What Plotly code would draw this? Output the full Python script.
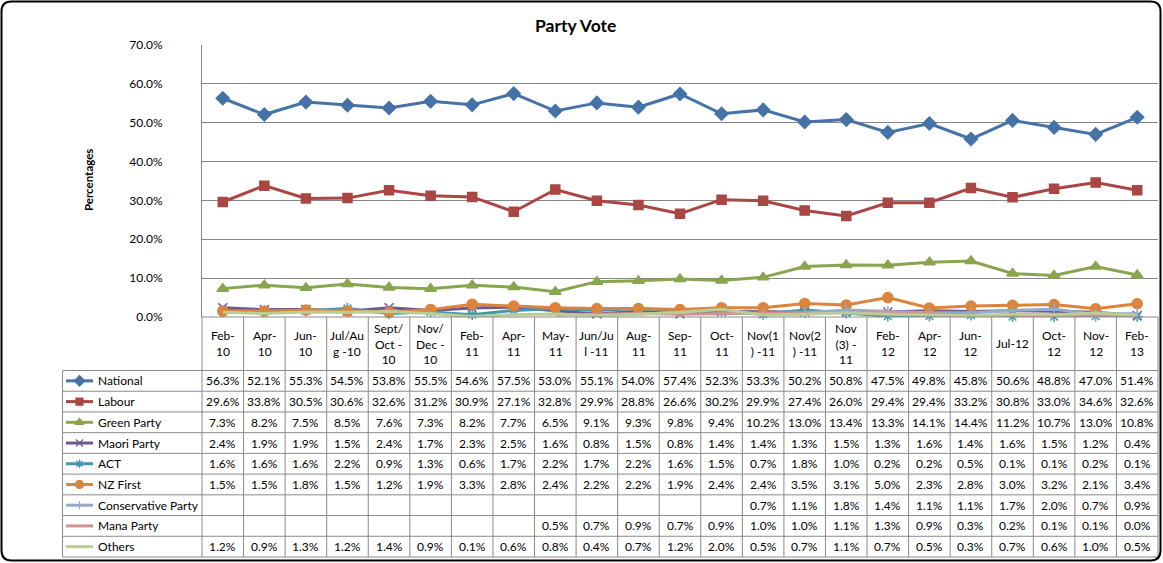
import plotly.graph_objects as go

# ---------------- data ----------------
categories = ["Feb-10", "Apr-10", "Jun-10", "Jul/Aug -10", "Sept/Oct - 10", "Nov/Dec - 10",
              "Feb-11", "Apr-11", "May-11", "Jun/Jul -11", "Aug-11", "Sep-11", "Oct-11",
              "Nov(1) -11", "Nov(2) -11", "Nov (3) - 11", "Feb-12", "Apr-12", "Jun-12",
              "Jul-12", "Oct-12", "Nov-12", "Feb-13"]
category_labels = ["Feb-<br>10", "Apr-<br>10", "Jun-<br>10", "Jul/Au<br>g -10", "Sept/<br>Oct -<br>10",
                   "Nov/<br>Dec -<br>10", "Feb-<br>11", "Apr-<br>11", "May-<br>11", "Jun/Ju<br>l -11",
                   "Aug-<br>11", "Sep-<br>11", "Oct-<br>11", "Nov(1<br>) -11", "Nov(2<br>) -11",
                   "Nov<br>(3) -<br>11", "Feb-<br>12", "Apr-<br>12", "Jun-<br>12", "Jul-12",
                   "Oct-<br>12", "Nov-<br>12", "Feb-<br>13"]

national = [56.3, 52.1, 55.3, 54.5, 53.8, 55.5, 54.6, 57.5, 53.0, 55.1, 54.0, 57.4, 52.3,
            53.3, 50.2, 50.8, 47.5, 49.8, 45.8, 50.6, 48.8, 47.0, 51.4]
labour = [29.6, 33.8, 30.5, 30.6, 32.6, 31.2, 30.9, 27.1, 32.8, 29.9, 28.8, 26.6, 30.2,
          29.9, 27.4, 26.0, 29.4, 29.4, 33.2, 30.8, 33.0, 34.6, 32.6]
green = [7.3, 8.2, 7.5, 8.5, 7.6, 7.3, 8.2, 7.7, 6.5, 9.1, 9.3, 9.8, 9.4,
         10.2, 13.0, 13.4, 13.3, 14.1, 14.4, 11.2, 10.7, 13.0, 10.8]
maori = [2.4, 1.9, 1.9, 1.5, 2.4, 1.7, 2.3, 2.5, 1.6, 0.8, 1.5, 0.8, 1.4,
         1.4, 1.3, 1.5, 1.3, 1.6, 1.4, 1.6, 1.5, 1.2, 0.4]
act = [1.6, 1.6, 1.6, 2.2, 0.9, 1.3, 0.6, 1.7, 2.2, 1.7, 2.2, 1.6, 1.5,
       0.7, 1.8, 1.0, 0.2, 0.2, 0.5, 0.1, 0.1, 0.2, 0.1]
nz_first = [1.5, 1.5, 1.8, 1.5, 1.2, 1.9, 3.3, 2.8, 2.4, 2.2, 2.2, 1.9, 2.4,
            2.4, 3.5, 3.1, 5.0, 2.3, 2.8, 3.0, 3.2, 2.1, 3.4]
conservative = [None] * 13 + [0.7, 1.1, 1.8, 1.4, 1.1, 1.1, 1.7, 2.0, 0.7, 0.9]
mana = [None] * 8 + [0.5, 0.7, 0.9, 0.7, 0.9, 1.0, 1.0, 1.1, 1.3, 0.9, 0.3, 0.2, 0.1, 0.1, 0.0]
others = [1.2, 0.9, 1.3, 1.2, 1.4, 0.9, 0.1, 0.6, 0.8, 0.4, 0.7, 1.2, 2.0,
          0.5, 0.7, 1.1, 0.7, 0.5, 0.3, 0.7, 0.6, 1.0, 0.5]

y_ticks = [0, 10, 20, 30, 40, 50, 60, 70]
y_tick_labels = [f"{v:.1f}%" for v in y_ticks]

series = [
    ("National", national, "#4572A7", "diamond", 10),
    ("Labour", labour, "#AA4643", "square", 9),
    ("Green Party", green, "#89A54E", "triangle-up", 10),
    ("Maori Party", maori, "#71588F", "x-thin-open", 9),
    ("ACT", act, "#4198AF", "asterisk-open", 9),
    ("NZ First", nz_first, "#DB843D", "circle", 10),
    ("Conservative Party", conservative, "#93A9CF", "line-ns-open", 8),
    ("Mana Party", mana, "#D19392", None, 0),
    ("Others", others, "#B9CD96", None, 0),
]

# ---------------- layout geometry (pixels) ----------------
W, H = 1163, 563
L, R, T, B = 202, 1158, 45, 317
TBL_LEFT = 62.5
HDR_BOT = 370.5
TBL_BOT = 557
n = len(categories)
col_w = (R - L) / n
row_h = (TBL_BOT - HDR_BOT) / len(series)
FONT = "Lato"
GRID = "#8a8a8a"

fig = go.Figure()

for name, vals, color, sym, size in series:
    if sym is None:
        fig.add_trace(go.Scatter(x=categories, y=vals, mode="lines", name=name,
                                 line=dict(color=color, width=3), showlegend=False,
                                 cliponaxis=False, xaxis="x", yaxis="y"))
    else:
        fig.add_trace(go.Scatter(x=categories, y=vals, mode="lines+markers", name=name,
                                 line=dict(color=color, width=3),
                                 marker=dict(symbol=sym, size=size, color=color,
                                             line=dict(color=color, width=1.5)),
                                 showlegend=False, cliponaxis=False, xaxis="x", yaxis="y"))

shapes = []
annotations = []

def hline(x0, x1, y):
    shapes.append(dict(type="line", xref="x2", yref="y2", x0=x0, x1=x1, y0=y, y1=y,
                       line=dict(color=GRID, width=1)))

def vline(x, y0, y1):
    shapes.append(dict(type="line", xref="x2", yref="y2", x0=x, x1=x, y0=y0, y1=y1,
                       line=dict(color=GRID, width=1)))

# table grid
hline(L, R, B)
for k in range(len(series) + 1):
    hline(TBL_LEFT, R, HDR_BOT + k * row_h)
for i in range(n + 1):
    vline(L + i * col_w, B, TBL_BOT)
vline(TBL_LEFT, HDR_BOT, TBL_BOT)

# header labels
for i, lab in enumerate(category_labels):
    annotations.append(dict(xref="x2", yref="y2", x=L + (i + 0.5) * col_w, y=(B + HDR_BOT) / 2,
                            text=lab, showarrow=False, align="center",
                            font=dict(family=FONT, size=12, color="black")))

# data cells + legend keys
for k, (name, vals, color, sym, size) in enumerate(series):
    yc = HDR_BOT + (k + 0.5) * row_h
    annotations.append(dict(xref="x2", yref="y2", x=96, y=yc, text=name, showarrow=False,
                            xanchor="left", font=dict(family=FONT, size=12, color="black")))
    shapes.append(dict(type="line", xref="x2", yref="y2", x0=66, x1=93, y0=yc, y1=yc,
                       line=dict(color=color, width=3)))
    if sym is not None:
        fig.add_trace(go.Scatter(x=[79.5], y=[yc], mode="markers", xaxis="x2", yaxis="y2",
                                 marker=dict(symbol=sym, size=size - 2, color=color,
                                             line=dict(color=color, width=1.2)),
                                 showlegend=False, hoverinfo="skip"))
    for i, v in enumerate(vals):
        if v is None:
            continue
        annotations.append(dict(xref="x2", yref="y2", x=L + (i + 0.5) * col_w, y=yc,
                                text=f"{v:.1f}%", showarrow=False,
                                font=dict(family=FONT, size=12, color="black")))

# title and axis title
annotations.append(dict(xref="x2", yref="y2", x=575, y=25, text="<b>Party Vote</b>",
                        showarrow=False, font=dict(family=FONT, size=17.5, color="black")))
annotations.append(dict(xref="x2", yref="y2", x=88, y=180, text="<b>Percentages</b>",
                        textangle=-90, showarrow=False,
                        font=dict(family=FONT, size=11.5, color="black")))

# outer rounded border
r = 10
x0, y0, x1, y1 = 1.5, 1.5, 1160.5, 560.5
path = (f"M{x0 + r},{y0} L{x1 - r},{y0} Q{x1},{y0} {x1},{y0 + r} L{x1},{y1 - r} "
        f"Q{x1},{y1} {x1 - r},{y1} L{x0 + r},{y1} Q{x0},{y1} {x0},{y1 - r} "
        f"L{x0},{y0 + r} Q{x0},{y0} {x0 + r},{y0} Z")
shapes.append(dict(type="path", xref="x2", yref="y2", path=path,
                   line=dict(color="black", width=2)))

fig.update_layout(
    template="none",
    width=W, height=H,
    margin=dict(l=0, r=0, t=0, b=0, pad=0, autoexpand=False),
    paper_bgcolor="white", plot_bgcolor="rgba(0,0,0,0)",
    showlegend=False,
    xaxis=dict(domain=[L / W, R / W], type="category", range=[-0.5, n - 0.5],
               showticklabels=False, showgrid=False, zeroline=False, showline=False,
               automargin=False, anchor="y"),
    yaxis=dict(domain=[1 - B / H, 1 - T / H], range=[0, 70], tickmode="array",
               tickvals=y_ticks, ticktext=y_tick_labels, showgrid=True,
               gridcolor="#868686", gridwidth=1, zeroline=False, showline=True,
               linecolor="#868686", ticks="", ticklabelstandoff=36, automargin=False,
               tickfont=dict(family=FONT, size=12, color="black"), anchor="x"),
    xaxis2=dict(domain=[0, 1], range=[0, W], visible=False, anchor="y2", automargin=False),
    yaxis2=dict(domain=[0, 1], range=[H, 0], visible=False, anchor="x2", automargin=False),
    shapes=shapes,
    annotations=annotations,
)

fig.write_html("out.html")
